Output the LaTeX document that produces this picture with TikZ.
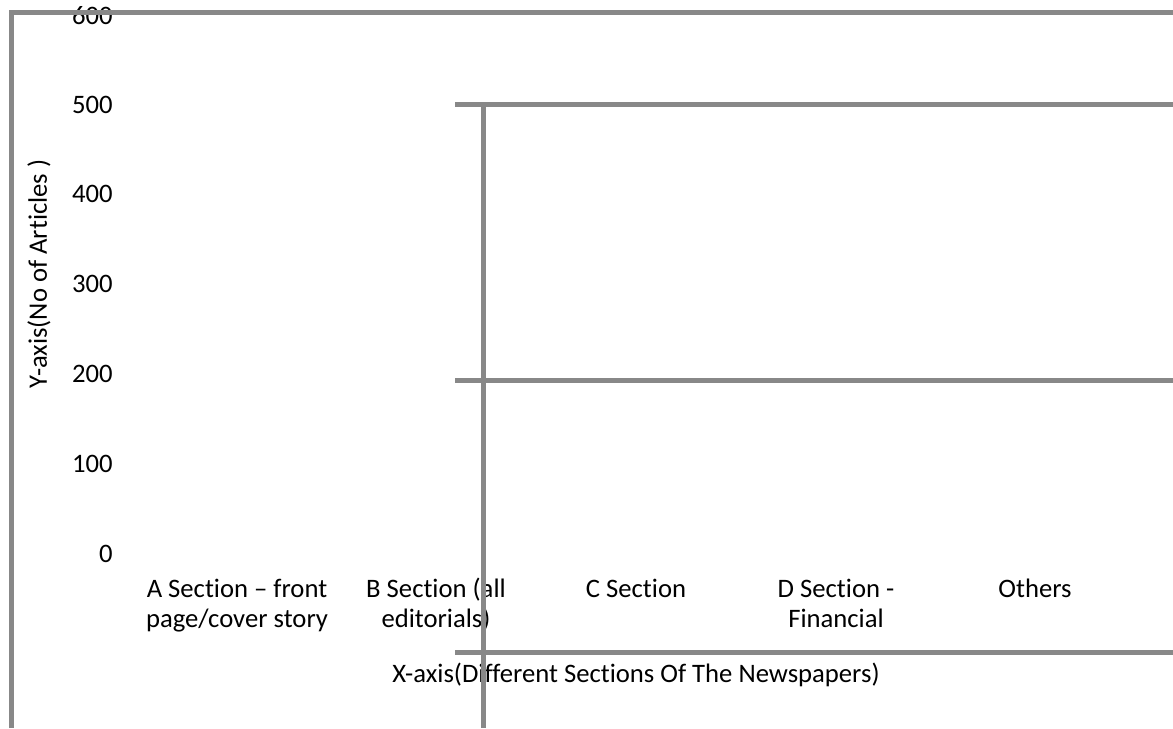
\documentclass[tikz,border=0pt]{standalone}
\usepackage{fontspec}
\setmainfont{Carlito}[Ligatures={NoCommon}]
\definecolor{linegray}{HTML}{888888}
\begin{document}
\begin{tikzpicture}[x=0.75pt,y=-0.75pt,
  gridline/.style={draw=linegray,line width=3.75pt},
  txt/.style={inner sep=0pt,font=\fontsize{20}{24}\selectfont},
  ticklbl/.style={txt,anchor=east},
  catlbl/.style={txt,anchor=base}]
\useasboundingbox (0,0) rectangle (1173,728);
% tick labels
\node[ticklbl] (t600) at (113,16) {600};
\node[ticklbl] (t500) at (113,105) {500};
\node[ticklbl] (t400) at (113,194) {400};
\node[ticklbl] (t300) at (113,284) {300};
\node[ticklbl] (t200) at (113,374) {200};
\node[ticklbl] (t100) at (113,464) {100};
\node[ticklbl] (t0) at (113,554) {0};
% axis titles
\node[txt,rotate=90] (ytitle) at (39,274) {Y-axis(No of Articles )};
\node[catlbl] (xtitle) at (636,682) {X-axis(Different Sections Of The Newspapers)};
% category labels
\node[catlbl] (a1) at (237,597) {A Section – front};
\node[catlbl] (a2) at (237,627) {page/cover story};
\node[catlbl] (b1) at (436,597) {B Section (all};
\node[catlbl] (b2) at (436,627) {editorials)};
\node[catlbl] (c1) at (636,597) {C Section};
\node[catlbl] (d1) at (836,597) {D Section -};
\node[catlbl] (d2) at (836,627) {Financial};
\node[catlbl] (e1) at (1035,597) {Others};
% lines
\draw[gridline] (11,728) -- (11,12.5) -- (1173,12.5);
\draw[gridline] (455,104) -- (1173,104);
\draw[gridline] (455,380) -- (1173,380);
\draw[gridline] (455,652.5) -- (1173,652.5);
\draw[gridline] (483,104) -- (483,728);
\end{tikzpicture}
\end{document}
